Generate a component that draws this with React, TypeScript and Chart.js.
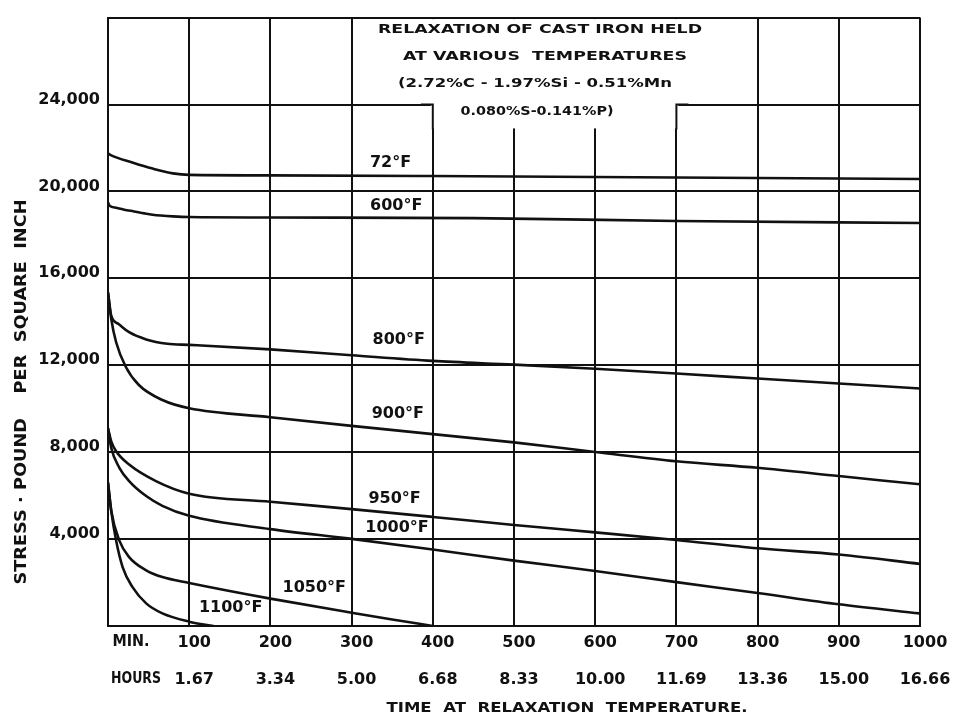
import React, { useEffect, useRef } from 'react';
import { Chart, registerables } from 'chart.js';

Chart.register(...registerables);

// ---- axis ticks ----
const minuteTicks = [100, 200, 300, 400, 500, 600, 700, 800, 900, 1000];
const hourLabels = ['1.67', '3.34', '5.00', '6.68', '8.33', '10.00', '11.69', '13.36', '15.00', '16.66'];
const stressTickValues = [4000, 8000, 12000, 16000, 20000, 24000];

// ---- series (time in minutes, stress in psi) ----
const t72 = [0, 4, 30, 55, 80, 100, 200, 400, 700, 1000];
const s72 = [21750, 21660, 21330, 21050, 20830, 20760, 20740, 20710, 20640, 20570];

const t600 = [0, 2, 10, 20, 32, 45, 55, 65, 80, 100, 200, 450, 700, 1000];
const s600 = [19500, 19340, 19250, 19160, 19080, 18990, 18930, 18890, 18850, 18820, 18800, 18770, 18640, 18550];

const t800 = [0, 4, 13, 26, 47, 73, 100, 200, 300, 400, 500, 600, 700, 800, 900, 1000];
const s800 = [15350, 14280, 13900, 13520, 13190, 12990, 12940, 12730, 12460, 12200, 12030, 11840, 11620, 11390, 11160, 10930];

const t900 = [0, 4, 10, 22, 38, 67, 100, 200, 300, 400, 500, 600, 700, 800, 900, 1000];
const s900 = [15350, 14130, 13060, 11920, 11090, 10400, 10020, 9610, 9210, 8830, 8450, 8010, 7580, 7280, 6900, 6520];

const t950 = [0, 4, 10, 26, 59, 100, 200, 300, 400, 500, 600, 700, 800, 900, 1000];
const s950 = [9100, 8500, 8040, 7430, 6670, 6090, 5720, 5380, 5020, 4650, 4310, 3960, 3580, 3290, 2860];

const t1000 = [0, 4, 14, 26, 47, 67, 100, 200, 300, 400, 500, 600, 700, 800, 900, 1000];
const s1000 = [9100, 8190, 7280, 6670, 5980, 5530, 5070, 4460, 4010, 3520, 3010, 2530, 2020, 1520, 1000, 580];

const t1050 = [0, 4, 14, 26, 47, 67, 100, 200, 300, 350, 400];
const s1050 = [6600, 5300, 3930, 3170, 2560, 2250, 1980, 1260, 610, 300, 0];

const t1100 = [0, 4, 10, 18, 30, 47, 67, 100, 130];
const s1100 = [6600, 5300, 3930, 2710, 1800, 1040, 580, 200, 0];

const seriesNames = ['72°F', '600°F', '800°F', '900°F', '950°F', '1000°F', '1050°F', '1100°F'];
const seriesTimes = [t72, t600, t800, t900, t950, t1000, t1050, t1100];
const seriesStress = [s72, s600, s800, s900, s950, s1000, s1050, s1100];

const titleLines = [
  'RELAXATION OF CAST IRON HELD',
  'AT VARIOUS  TEMPERATURES',
  '(2.72%C - 1.97%Si - 0.51%Mn',
  '0.080%S-0.141%P)',
];
const xTitle = 'TIME  AT  RELAXATION  TEMPERATURE.';
const yTitle = 'STRESS · POUND    PER  SQUARE  INCH';

// curve label anchors in data units (minutes, psi)
const labelAnchors: [number, number][] = [
  [348, 21330], [355, 19320], [358, 13160], [357, 9780],
  [353, 5850], [356, 4520], [254, 1740], [151, 820],
];

const INK = '#111';
const FONT = '"DejaVu Sans", sans-serif';

function drawStretched(ctx: CanvasRenderingContext2D, text: string, cx: number, cy: number, font: string, width?: number, rotate = 0) {
  ctx.save();
  ctx.font = font;
  ctx.fillStyle = INK;
  ctx.textAlign = 'center';
  ctx.textBaseline = 'middle';
  ctx.translate(cx, cy);
  if (rotate) ctx.rotate(rotate);
  if (width) {
    const w = ctx.measureText(text).width;
    ctx.scale(width / w, 1);
  }
  ctx.fillText(text, 0, 0);
  ctx.restore();
}

const decorPlugin = {
  id: 'decor',
  beforeDatasetsDraw(chart: any) {
    const { ctx, chartArea } = chart;
    const xs = chart.scales.x;
    const ys = chart.scales.y;
    const xl = xs.getPixelForValue(400);
    const xr = xs.getPixelForValue(700);
    const yTop = ys.getPixelForValue(28000);
    const y24 = ys.getPixelForValue(24000);
    const yBoxBottom = ys.getPixelForValue(22900);
    ctx.save();
    ctx.fillStyle = '#fff';
    ctx.fillRect(xl - 2, yTop + 1.5, xr - xl + 4, yBoxBottom - yTop - 1.5);
    ctx.strokeStyle = INK;
    ctx.lineWidth = 2;
    ctx.beginPath();
    ctx.moveTo(xl - 12, y24);
    ctx.lineTo(xl, y24);
    ctx.lineTo(xl, yBoxBottom + 1);
    ctx.moveTo(xr + 12, y24);
    ctx.lineTo(xr, y24);
    ctx.lineTo(xr, yBoxBottom + 1);
    ctx.stroke();
    ctx.restore();

    const top = chartArea.top;
    const titleFont = `bold 13px ${FONT}`;
    drawStretched(ctx, titleLines[0], 540, top + 12, titleFont, 324);
    drawStretched(ctx, titleLines[1], 545, top + 39, titleFont, 284);
    drawStretched(ctx, titleLines[2], 535, top + 66, titleFont, 274);
    drawStretched(ctx, titleLines[3], 537, top + 94, titleFont, 153);
  },
  afterDatasetsDraw(chart: any) {
    const { ctx, chartArea } = chart;
    const xs = chart.scales.x;
    const ys = chart.scales.y;
    const labelFont = `bold 16px ${FONT}`;
    seriesNames.forEach((name, i) => {
      const [mx, sy] = labelAnchors[i];
      drawStretched(ctx, name, xs.getPixelForValue(mx), ys.getPixelForValue(sy), labelFont);
    });
    const tickFont = `bold 16px ${FONT}`;
    const x0 = chartArea.left;
    drawStretched(ctx, 'MIN.', x0 + 23, chartArea.bottom + 16, tickFont, 37);
    drawStretched(ctx, 'HOURS', x0 + 28, chartArea.bottom + 53, tickFont, 50);
    drawStretched(ctx, xTitle, 567, chartArea.bottom + 82, `bold 14px ${FONT}`, 361);
    drawStretched(ctx, yTitle, 22, 392, `bold 15px ${FONT}`, 385, -Math.PI / 2);
  },
};

export default function App() {
  const ref = useRef<HTMLCanvasElement | null>(null);
  useEffect(() => {
    if (!ref.current) return;
    const datasets = seriesNames.map((name, i) => ({
      label: name,
      data: seriesTimes[i].map((t, j) => ({ x: t, y: seriesStress[i][j] })),
      borderColor: INK,
      borderWidth: 2.6,
      pointRadius: 0,
      fill: false,
      cubicInterpolationMode: 'monotone' as const,
    }));
    const chart = new Chart(ref.current, {
      type: 'line',
      data: { datasets },
      plugins: [decorPlugin],
      options: {
        responsive: false,
        animation: false,
        events: [],
        layout: { padding: { left: 0, top: 13, right: 36, bottom: 0 } },
        plugins: { legend: { display: false }, tooltip: { enabled: false }, title: { display: false } },
        scales: {
          x: {
            type: 'linear',
            min: 0,
            max: 1000,
            afterFit: (s: any) => { s.height = 92; },
            grid: { color: INK, lineWidth: 2, drawTicks: false },
            border: { color: INK, width: 2 },
            ticks: {
              stepSize: 100,
              autoSkip: false,
              maxRotation: 0,
              padding: -2,
              labelOffset: 5,
              color: INK,
              font: { family: FONT, size: 16, weight: 'bold', lineHeight: 37 / 16 },
              callback: (v: any) => {
                const i = minuteTicks.indexOf(Number(v));
                return i < 0 ? '' : [String(minuteTicks[i]), hourLabels[i]];
              },
            },
          },
          y: {
            type: 'linear',
            min: 0,
            max: 28000,
            afterFit: (s: any) => { s.width = 108; },
            grid: { color: INK, lineWidth: 2, drawTicks: false },
            border: { color: INK, width: 2 },
            ticks: {
              stepSize: 4000,
              padding: 8,
              labelOffset: -5,
              color: INK,
              font: { family: FONT, size: 16, weight: 'bold' },
              callback: (v: any) => (stressTickValues.includes(Number(v)) ? Number(v).toLocaleString('en-US') : ''),
            },
          },
        },
      },
    });
    return () => chart.destroy();
  }, []);
  return (
    <div style={{ position: 'fixed', left: 0, top: 0, width: 956, height: 718, background: '#fff' }}>
      <canvas ref={ref} width={956} height={718} />
    </div>
  );
}
